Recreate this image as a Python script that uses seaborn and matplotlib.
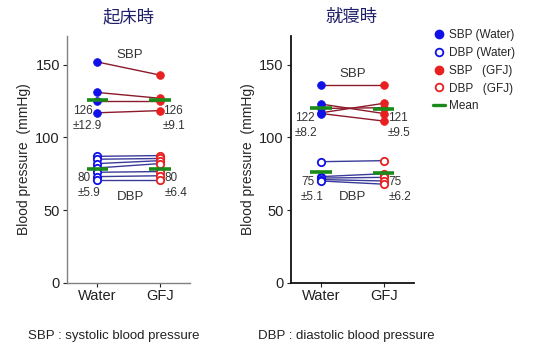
import matplotlib
matplotlib.use("Agg")
import matplotlib.pyplot as plt
from matplotlib.lines import Line2D
import seaborn as sns
import pandas as pd

# ---------------- data ----------------
categories = ["Water", "GFJ"]
panel_titles = ["起床時", "就寝時"]

# morning (起床時)
am_sbp_water = [152, 131, 125, 117]
am_sbp_gfj = [143, 127, 125, 118.5]
am_dbp_water = [87, 85, 82, 79, 76, 73, 70.6]
am_dbp_gfj = [87.5, 85.5, 84, 82, 76.5, 73.6, 70.6]
am_mean_sbp = [126, 126]
am_mean_dbp = [78, 78]
am_sbp_text = ["126\n±12.9", "126\n±9.1"]
am_dbp_text = ["80\n±5.9", "80\n±6.4"]

# bedtime (就寝時)
pm_sbp_water = [136, 123, 120, 117, 116.5]
pm_sbp_gfj = [136, 116.5, 120.5, 123.5, 111.3]
pm_dbp_water = [83.3, 73, 72, 71, 70]
pm_dbp_gfj = [84, 75, 72.5, 70, 67.8]
pm_mean_sbp = [120, 119.5]
pm_mean_dbp = [76, 75.5]
pm_sbp_text = ["122\n±8.2", "121\n±9.5"]
pm_dbp_text = ["75\n±5.1", "75\n±6.2"]

yticks = [0, 50, 100, 150]
legend_labels = ["SBP (Water)", "DBP (Water)", "SBP   (GFJ)", "DBP   (GFJ)", "Mean"]
footer_left = "SBP : systolic blood pressure"
footer_right = "DBP : diastolic blood pressure"

# ---------------- style ----------------
sns.set_theme(style="ticks")
plt.rcParams["font.family"] = ["Liberation Sans", "Noto Sans CJK JP", "DejaVu Sans"]

BLUE = "#1010e8"
RED = "#e82020"
SBP_LINE = "#8b1a2a"
DBP_LINE = "#3a3a9a"
GREEN = "#1a8a1a"
TITLE_C = "#20206a"


def long_df(water, gfj):
    rows = []
    for i, (w, g) in enumerate(zip(water, gfj)):
        rows.append({"unit": i, "x": 0, "cond": categories[0], "bp": w})
        rows.append({"unit": i, "x": 1, "cond": categories[1], "bp": g})
    return pd.DataFrame(rows)


fig = plt.figure(figsize=(5.35, 3.45), dpi=100)
ax1 = fig.add_axes([0.125, 0.181, 0.230, 0.715])
ax2 = fig.add_axes([0.543, 0.181, 0.230, 0.715])

panels = [
    (ax1, am_sbp_water, am_sbp_gfj, am_dbp_water, am_dbp_gfj, am_mean_sbp, am_mean_dbp,
     am_sbp_text, am_dbp_text, "#808080",
     dict(sbp_l=(-0.39, 113), sbp_r=(0.05, 113), dbp_l=(-0.32, 67), dbp_r=(0.07, 67),
          sbp_lab=(0.52, 157), dbp_lab=(0.53, 59))),
    (ax2, pm_sbp_water, pm_sbp_gfj, pm_dbp_water, pm_dbp_gfj, pm_mean_sbp, pm_mean_dbp,
     pm_sbp_text, pm_dbp_text, "#111111",
     dict(sbp_l=(-0.42, 108), sbp_r=(0.065, 108), dbp_l=(-0.32, 64), dbp_r=(0.08, 64),
          sbp_lab=(0.51, 144), dbp_lab=(0.50, 59))),
]

for k, (ax, sw, sg, dw, dg, msbp, mdbp, st, dt, spc, pos) in enumerate(panels):
    sdf = long_df(sw, sg)
    ddf = long_df(dw, dg)
    sns.lineplot(data=sdf, x="x", y="bp", units="unit", estimator=None,
                 color=SBP_LINE, lw=1.0, ax=ax, legend=False)
    sns.lineplot(data=ddf, x="x", y="bp", units="unit", estimator=None,
                 color=DBP_LINE, lw=1.0, ax=ax, legend=False)
    # markers
    sns.scatterplot(data=sdf[sdf.x == 0], x="x", y="bp", color=BLUE, s=32,
                    edgecolor=BLUE, ax=ax, zorder=4, legend=False)
    sns.scatterplot(data=sdf[sdf.x == 1], x="x", y="bp", color=RED, s=32,
                    edgecolor=RED, ax=ax, zorder=4, legend=False)
    sns.scatterplot(data=ddf[ddf.x == 0], x="x", y="bp", facecolor="white", s=28,
                    edgecolor=BLUE, linewidth=1.3, ax=ax, zorder=4, legend=False)
    sns.scatterplot(data=ddf[ddf.x == 1], x="x", y="bp", facecolor="white", s=28,
                    edgecolor=RED, linewidth=1.3, ax=ax, zorder=4, legend=False)
    # mean bars
    for xi in (0, 1):
        ax.hlines([msbp[xi], mdbp[xi]], xi - 0.17, xi + 0.17, color=GREEN, lw=2.6, zorder=5)

    tc = "#333333"
    ax.text(*pos["sbp_l"], st[0], fontsize=8.5, color=tc, ha="left", va="center", linespacing=1.35)
    ax.text(1 + pos["sbp_r"][0], pos["sbp_r"][1], st[1], fontsize=8.5, color=tc, ha="left",
            va="center", linespacing=1.35)
    ax.text(*pos["dbp_l"], dt[0], fontsize=8.5, color=tc, ha="left", va="center", linespacing=1.35)
    ax.text(1 + pos["dbp_r"][0], pos["dbp_r"][1], dt[1], fontsize=8.5, color=tc, ha="left",
            va="center", linespacing=1.35)
    ax.text(*pos["sbp_lab"], "SBP", fontsize=9.5, color=tc, ha="center", va="center")
    ax.text(*pos["dbp_lab"], "DBP", fontsize=9.5, color=tc, ha="center", va="center")

    ax.set_xlim(-0.49, 1.48)
    ax.set_ylim(0, 170)
    ax.set_xticks([0, 1])
    ax.set_xticklabels(categories, fontsize=10.5)
    ax.set_yticks(yticks)
    ax.set_yticklabels([str(v) for v in yticks], fontsize=10.5)
    ax.set_xlabel("")
    ax.set_ylabel("Blood pressure  (mmHg)", fontsize=10, labelpad=3)
    ax.set_title(panel_titles[k], fontsize=12.5, color=TITLE_C, pad=10)
    sns.despine(ax=ax)
    for s in ("left", "bottom"):
        ax.spines[s].set_color(spc)
        ax.spines[s].set_linewidth(1.3 if k == 1 else 1.0)
    ax.tick_params(length=3, width=0.8, colors="#222222", labelsize=10.5, pad=2)

handles = [
    Line2D([], [], ls="", marker="o", color=BLUE, markersize=6),
    Line2D([], [], ls="", marker="o", markerfacecolor="white", markeredgecolor=BLUE,
           markeredgewidth=1.3, markersize=5.5),
    Line2D([], [], ls="", marker="o", color=RED, markersize=6),
    Line2D([], [], ls="", marker="o", markerfacecolor="white", markeredgecolor=RED,
           markeredgewidth=1.3, markersize=5.5),
    Line2D([], [], color=GREEN, lw=2.4),
]
fig.legend(handles, legend_labels, loc="upper left", bbox_to_anchor=(0.80, 0.93),
           frameon=False, fontsize=8.5, handlelength=1.0, handletextpad=0.4,
           labelspacing=0.5, borderaxespad=0)

fig.text(0.052, 0.008, footer_left, fontsize=9.5, color="#222222", ha="left", va="bottom")
fig.text(0.483, 0.008, footer_right, fontsize=9.5, color="#222222", ha="left", va="bottom")

fig.savefig("out.png", dpi=100)
